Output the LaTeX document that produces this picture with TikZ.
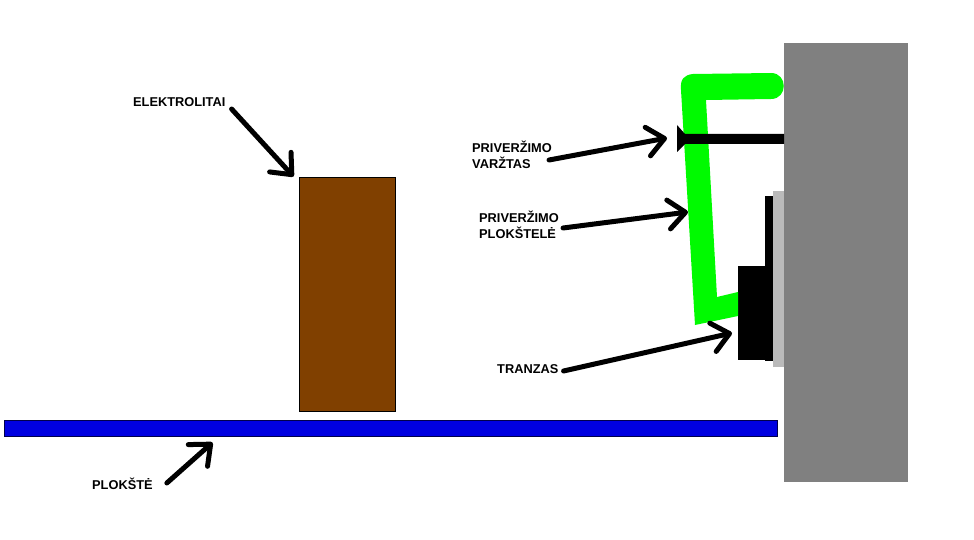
\documentclass[tikz,border=0pt]{standalone}
\usepackage{fontspec}
\setmainfont{Liberation Sans}
\usetikzlibrary{arrows.meta,calc}

\begin{document}
\begin{tikzpicture}[
        x=1pt, y=-1pt,
        solid block/.style = {rectangle, anchor=north west, inner sep=0pt, outer sep=0pt},
        label/.style = {anchor=west, inner sep=0pt, align=left, font=\fontsize{12.8}{16}\selectfont\bfseries},
        line/.style = {draw, line width=5pt, line cap=round, -{Straight Barb[length=17pt, width=29pt, round]}}
    ]
        \useasboundingbox (0,0) rectangle (974,540);

        % Place nodes
        \node [solid block, fill=black!50, minimum width=124pt, minimum height=439pt] at (784,43) (wall) {};
        \node [solid block, fill=black!27, minimum width=11pt, minimum height=176pt] at (773,191) (pad) {};
        \node [solid block, fill=black, minimum width=8pt, minimum height=165pt] at (765,196) (tab) {};
        \node [solid block, fill=black, minimum width=35pt, minimum height=94pt] at (738,266) (tranzas) {};
        \node [solid block, draw=black, fill={rgb,255:red,128;green,64;blue,0}, minimum width=96pt, minimum height=234pt] at (299.5,177.5) (elektrolitas) {};
        \node [solid block, draw=black!70!blue, fill={rgb,255:red,0;green,0;blue,225}, minimum width=773pt, minimum height=16pt] at (4.5,420.5) (board) {};

        % Clamp and screw
        \fill [fill={rgb,255:red,0;green,250;blue,0}] (681,90) .. controls (680,79) and (684,75) .. (693,74)
            -- (771,73) .. controls (788,73) and (788,99) .. (771,99)
            -- (706,100) -- (717,297) -- (738,292) -- (738,316) -- (695,325) -- cycle;
        \fill (677,125) -- (685,134) -- (784,134) -- (784,144) -- (685,144) -- (677,152) -- cycle;

        \coordinate (plate) at (688,212);
        \coordinate (screw) at (667,138);

        % Labels
        \node [label] at (133,102) (elektrolitai) {ELEKTROLITAI};
        \node [label] at (472,155) (varztas) {PRIVERŽIMO\\VARŽTAS};
        \node [label] at (479,225) (plokstele) {PRIVERŽIMO\\PLOKŠTELĖ};
        \node [label] at (497,369) (tranzaslabel) {TRANZAS};
        \node [label] at (92,484) (plokste) {PLOKŠTĖ};

        % Draw edges
        \draw [line] ($(elektrolitai.east) + (6,7)$) -- ($(elektrolitas.north west) + (-6,-1)$);
        \draw [line] ($(varztas.east) + (-3,5)$) -- (screw);
        \draw [line] ($(plokstele.east) + (4,3)$) -- (plate);
        \draw [line] ($(tranzaslabel.east) + (5,2)$) -- ($(tranzas.south west) + (-6,-27)$);
        \draw [line] ($(plokste.east) + (14,-1)$) -- ($(board.south west) + (208,6)$);
\end{tikzpicture}
\end{document}
